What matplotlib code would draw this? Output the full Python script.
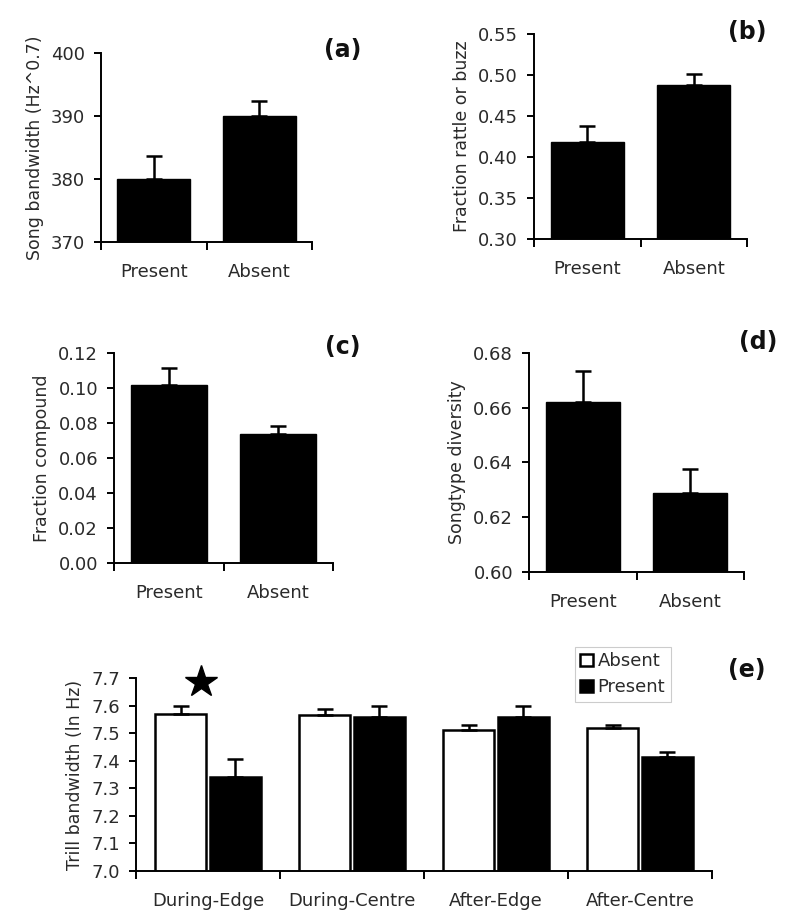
import matplotlib
matplotlib.use("Agg")
import matplotlib.pyplot as plt
import numpy as np
from matplotlib.ticker import FormatStrFormatter

# panels a-d: two groups each
groups = ["Present", "Absent"]

bw_mean = [380.0, 390.0]
bw_se = [3.7, 2.4]

rattle_mean = [0.418, 0.488]
rattle_se = [0.020, 0.013]

compound_mean = [0.1015, 0.074]
compound_se = [0.0101, 0.0041]

diversity_mean = [0.662, 0.629]
diversity_se = [0.0115, 0.0085]

# panel e: trill bandwidth by period / location
sites = ["During-Edge", "During-Centre", "After-Edge", "After-Centre"]
trill_absent = [7.570, 7.565, 7.510, 7.517]
trill_absent_se = [0.027, 0.022, 0.018, 0.013]
trill_present = [7.340, 7.558, 7.558, 7.412]
trill_present_se = [0.068, 0.042, 0.040, 0.019]

TXT = "#2a2a2a"
plt.rcParams["font.family"] = "DejaVu Sans"
plt.rcParams["font.size"] = 13

W, H = 800, 923
fig = plt.figure(figsize=(8, 9.23), dpi=100)


def make_ax(left, right, top, bottom):
    return fig.add_axes([left / W, (H - bottom) / H, (right - left) / W, (bottom - top) / H])


def style(ax, ncat, labels, ylim, yticks, fmt, ylabel, tag, tagpos):
    for s in ["top", "right"]:
        ax.spines[s].set_visible(False)
    for s in ["left", "bottom"]:
        ax.spines[s].set_linewidth(1.4)
    ax.set_xlim(0, ncat)
    ax.set_ylim(*ylim)
    ax.set_yticks(yticks)
    ax.yaxis.set_major_formatter(FormatStrFormatter(fmt))
    ax.set_xticks(np.arange(ncat + 1))
    ax.set_xticklabels([])
    ax.set_xticks(np.arange(ncat) + 0.5, minor=True)
    ax.set_xticklabels(labels, minor=True)
    ax.tick_params(axis="x", which="major", length=6, width=1.4, direction="out")
    ax.tick_params(axis="x", which="minor", length=0, pad=15, labelsize=13, labelcolor=TXT)
    ax.tick_params(axis="y", length=5, width=1.4, pad=6.5, labelsize=13, labelcolor=TXT)
    ax.set_ylabel(ylabel, fontsize=12.5, color=TXT, labelpad=5)
    ax.text(tagpos[0], tagpos[1], tag, transform=fig.transFigure, fontsize=17,
            fontweight="bold", ha="center", va="center", color="#111111")


def two_bars(ax, means, ses):
    x = np.arange(len(means)) + 0.5
    ax.bar(x, means, width=0.69, color="black", edgecolor="black", zorder=2)
    ax.errorbar(x, means, yerr=[np.zeros(len(ses)), ses], fmt="none", ecolor="black",
                elinewidth=1.8, capsize=6, capthick=1.8, zorder=3)


# (a)
ax = make_ax(101, 312, 53, 242)
two_bars(ax, bw_mean, bw_se)
style(ax, 2, groups, (370, 400), np.arange(370, 401, 10), "%d",
      "Song bandwidth (Hz^0.7)", "(a)", (343 / W, 1 - 50 / H))

# (b)
ax = make_ax(534, 747, 34, 239)
two_bars(ax, rattle_mean, rattle_se)
style(ax, 2, groups, (0.30, 0.55), np.arange(0.30, 0.551, 0.05), "%.2f",
      "Fraction rattle or buzz", "(b)", (747 / W, 1 - 32 / H))

# (c)
ax = make_ax(114, 333, 353, 563)
two_bars(ax, compound_mean, compound_se)
style(ax, 2, groups, (0, 0.12), np.arange(0, 0.121, 0.02), "%.2f",
      "Fraction compound", "(c)", (343 / W, 1 - 347 / H))

# (d)
ax = make_ax(529, 744, 353, 572)
two_bars(ax, diversity_mean, diversity_se)
style(ax, 2, groups, (0.60, 0.68), np.arange(0.60, 0.681, 0.02), "%.2f",
      "Songtype diversity", "(d)", (758 / W, 1 - 342 / H))

# (e)
ax = make_ax(136, 712, 678, 871)
x = np.arange(len(sites)) + 0.5
bw = 0.35
off = 0.19
ax.bar(x - off, trill_absent, width=bw, color="white", edgecolor="black", linewidth=1.8,
       label="Absent", zorder=2)
ax.bar(x + off, trill_present, width=bw, color="black", edgecolor="black", linewidth=1.8,
       label="Present", zorder=2)
ax.errorbar(x - off, trill_absent, yerr=[np.zeros(4), trill_absent_se], fmt="none",
            ecolor="black", elinewidth=1.8, capsize=6, capthick=1.8, zorder=3)
ax.errorbar(x + off, trill_present, yerr=[np.zeros(4), trill_present_se], fmt="none",
            ecolor="black", elinewidth=1.8, capsize=6, capthick=1.8, zorder=3)
style(ax, 4, sites, (7.0, 7.7), np.arange(7.0, 7.71, 0.1), "%.1f",
      "Trill bandwidth (ln Hz)", "(e)", (747 / W, 1 - 670 / H))
ax.plot([0.45], [7.687], marker="*", markersize=24, color="black", clip_on=False, zorder=4)
leg = ax.legend(loc="upper left", bbox_to_anchor=(0.762, 1.161), borderaxespad=0,
                fontsize=13, handlelength=0.7, handleheight=0.7, handletextpad=0.25,
                labelspacing=0.45, borderpad=0.3, fancybox=False, framealpha=1)
leg.get_frame().set_edgecolor("#cccccc")
leg.get_frame().set_linewidth(0.8)
for t in leg.get_texts():
    t.set_color(TXT)

fig.savefig("out.png", dpi=100)
